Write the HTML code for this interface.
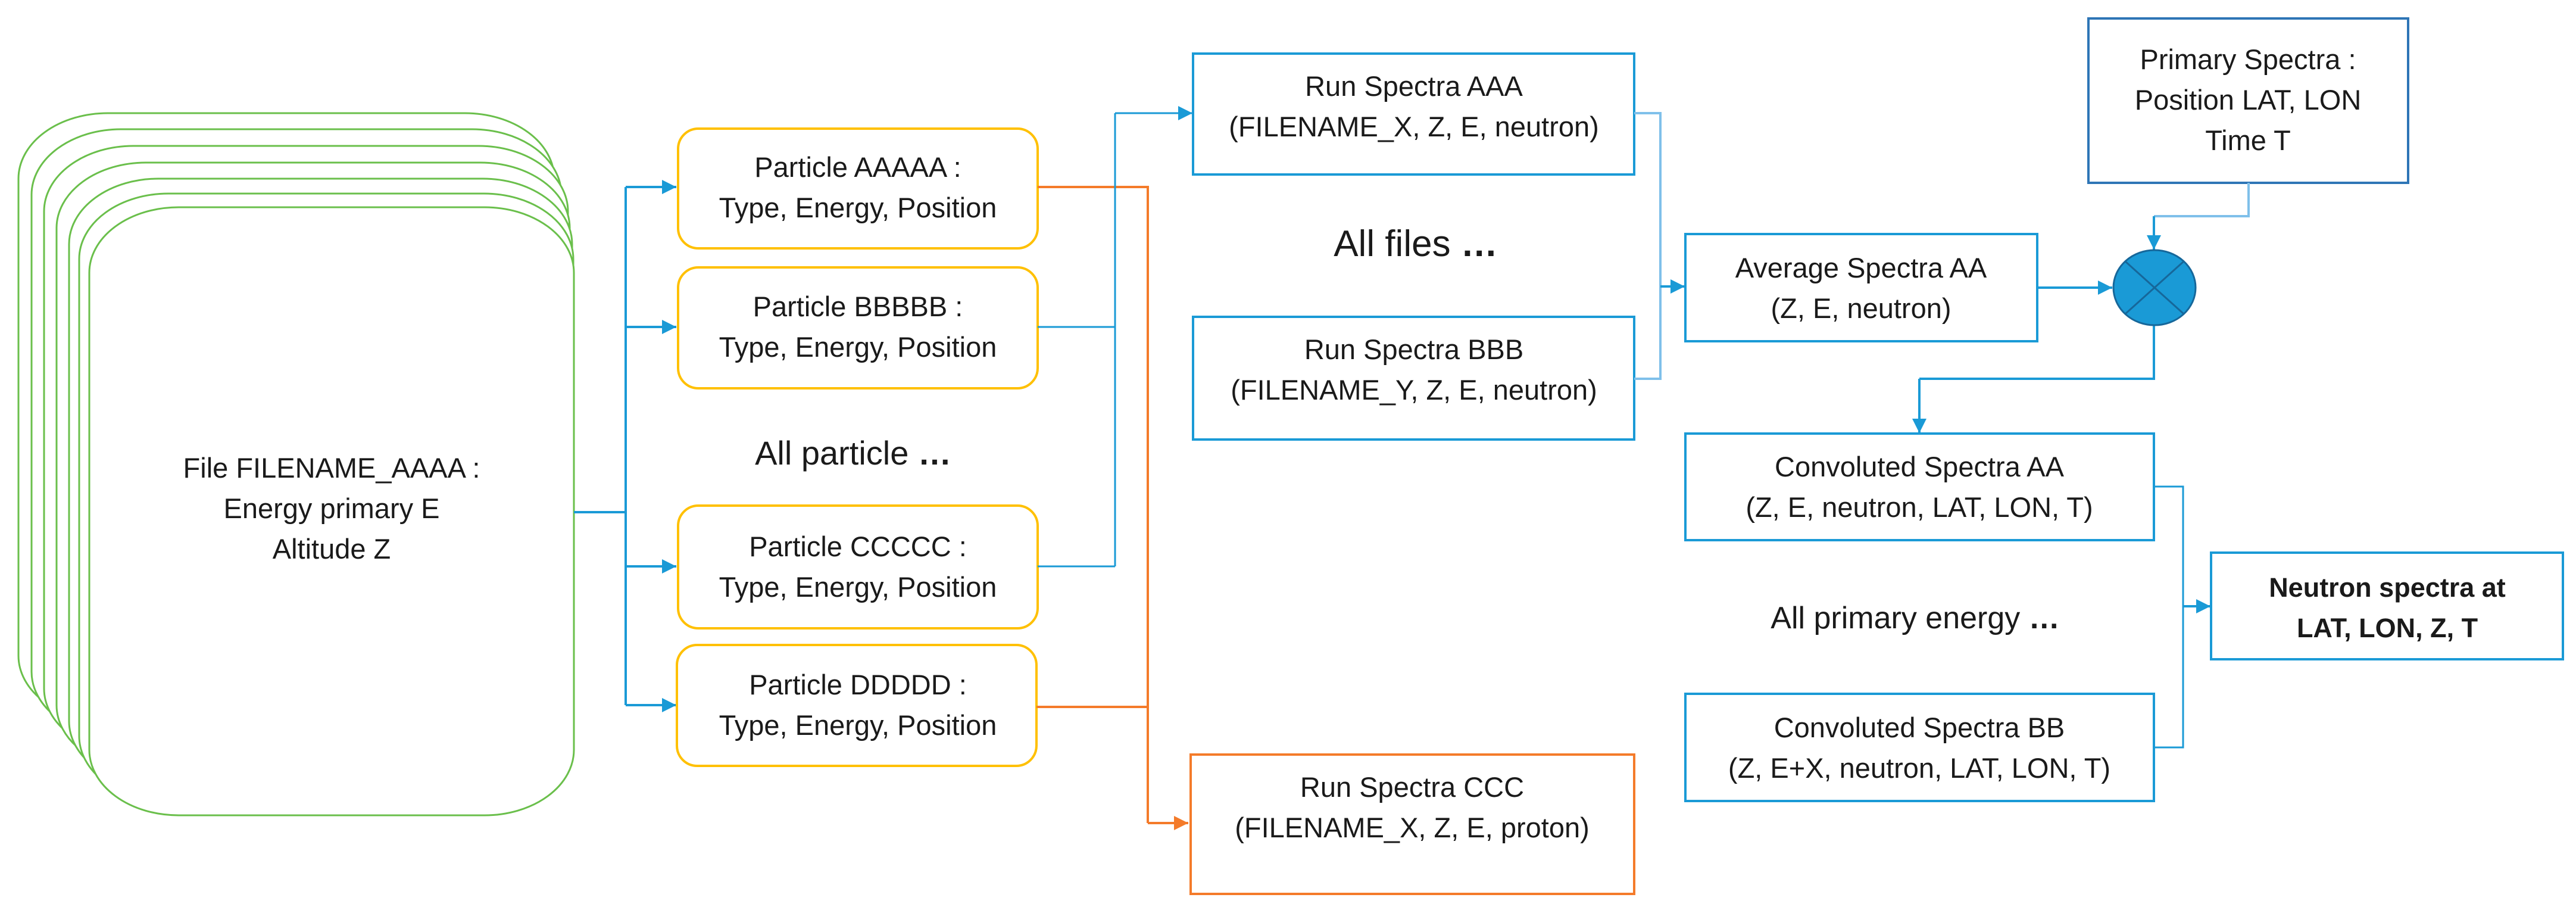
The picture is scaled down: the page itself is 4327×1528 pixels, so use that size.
<!DOCTYPE html>
<html><head><meta charset="utf-8"><style>
html,body{margin:0;padding:0;background:#fff;}
svg{display:block;}
text{font-family:"Liberation Sans",sans-serif;fill:#1a1a1a;text-anchor:middle;}
</style></head><body>
<svg width="4327" height="1528" viewBox="0 0 4327 1528" xmlns="http://www.w3.org/2000/svg">
<defs>
<marker id="ab" markerWidth="10" markerHeight="10" refX="9" refY="5" orient="auto" markerUnits="userSpaceOnUse" viewBox="0 0 10 10"><path d="M0,0 L10,5 L0,10 z" fill="#1a9ad6"/></marker>
<marker id="abig" viewBox="0 0 10 10" refX="10" refY="5" markerWidth="24" markerHeight="24" orient="auto" markerUnits="userSpaceOnUse"><path d="M0,0 L10,5 L0,10 z" fill="#1a9ad6"/></marker>
<marker id="aor" viewBox="0 0 10 10" refX="10" refY="5" markerWidth="24" markerHeight="24" orient="auto" markerUnits="userSpaceOnUse"><path d="M0,0 L10,5 L0,10 z" fill="#f47b2a"/></marker>
</defs>

<!-- green stacked cards -->
<g fill="#fff" stroke="#6abf4b" stroke-width="3">
<rect x="31" y="190" width="900" height="1021" rx="150" ry="110"/>
<rect x="53" y="217" width="890" height="1021" rx="150" ry="110"/>
<rect x="74" y="245" width="880" height="1021" rx="150" ry="110"/>
<rect x="95" y="273" width="862" height="1021" rx="150" ry="110"/>
<rect x="116" y="300" width="845" height="1021" rx="150" ry="110"/>
<rect x="133" y="325" width="830" height="1021" rx="150" ry="110"/>
<rect x="150" y="348" width="814" height="1021" rx="150" ry="110"/>
</g>
<text x="557" y="802" font-size="47">File FILENAME_AAAA :</text>
<text x="557" y="870" font-size="47">Energy primary E</text>
<text x="557" y="938" font-size="47">Altitude Z</text>

<!-- blue from file to particles -->
<g stroke="#1a9ad6" stroke-width="4" fill="none">
<line x1="964" y1="860" x2="1051" y2="860"/>
<line x1="1051" y1="314" x2="1051" y2="1184"/>
<line x1="1051" y1="314" x2="1136" y2="314" marker-end="url(#abig)"/>
<line x1="1051" y1="549" x2="1136" y2="549" marker-end="url(#abig)"/>
<line x1="1051" y1="951" x2="1136" y2="951" marker-end="url(#abig)"/>
<line x1="1051" y1="1184" x2="1136" y2="1184" marker-end="url(#abig)"/>
</g>

<!-- particle boxes -->
<g fill="#fff" stroke="#ffc000" stroke-width="4">
<rect x="1139" y="216" width="604" height="201" rx="34"/>
<rect x="1139" y="449" width="604" height="203" rx="34"/>
<rect x="1139" y="849" width="604" height="206" rx="34"/>
<rect x="1137" y="1083" width="604" height="203" rx="34"/>
</g>
<g font-size="47">
<text x="1441" y="297">Particle AAAAA :</text><text x="1441" y="365">Type, Energy, Position</text>
<text x="1441" y="531">Particle BBBBB :</text><text x="1441" y="599">Type, Energy, Position</text>
<text x="1441" y="934">Particle CCCCC :</text><text x="1441" y="1002">Type, Energy, Position</text>
<text x="1441" y="1166">Particle DDDDD :</text><text x="1441" y="1234">Type, Energy, Position</text>
</g>
<text x="1433" y="780" font-size="56">All particle <tspan font-weight="bold">…</tspan></text>

<!-- orange connectors -->
<g stroke="#f47b2a" stroke-width="4" fill="none">
<polyline points="1743,314 1928,314 1928,1382"/>
<line x1="1741" y1="1187" x2="1928" y2="1187"/>
<line x1="1928" y1="1382" x2="1996" y2="1382" marker-end="url(#aor)"/>
</g>
<!-- blue from B, C to AAA -->
<g stroke="#1a9ad6" stroke-width="3" fill="none">
<line x1="1743" y1="549" x2="1873" y2="549"/>
<line x1="1743" y1="951" x2="1873" y2="951"/>
<line x1="1873" y1="951" x2="1873" y2="190"/>
<line x1="1873" y1="190" x2="2003" y2="190" marker-end="url(#abig)"/>
</g>

<!-- run spectra boxes -->
<g fill="#fff" stroke="#1a9ad6" stroke-width="4">
<rect x="2004" y="90" width="741" height="203"/>
<rect x="2004" y="532" width="741" height="206"/>
<rect x="2831" y="393" width="591" height="180"/>
<rect x="2831" y="728" width="787" height="179"/>
<rect x="2831" y="1165" width="787" height="180"/>
<rect x="3714" y="928" width="591" height="179"/>
</g>
<rect x="3508" y="31" width="537" height="276" fill="#fff" stroke="#2e75b6" stroke-width="4"/>
<rect x="2000" y="1267" width="745" height="234" fill="#fff" stroke="#f47b2a" stroke-width="4"/>

<g font-size="47">
<text x="2375" y="161">Run Spectra AAA</text><text x="2375" y="229">(FILENAME_X, Z, E, neutron)</text>
<text x="2375" y="603">Run Spectra BBB</text><text x="2375" y="671">(FILENAME_Y, Z, E, neutron)</text>
<text x="2372" y="1338">Run Spectra CCC</text><text x="2372" y="1406">(FILENAME_X, Z, E, proton)</text>
<text x="3126" y="466">Average Spectra AA</text><text x="3126" y="534">(Z, E, neutron)</text>
<text x="3776" y="116">Primary Spectra :</text><text x="3776" y="184">Position LAT, LON</text><text x="3776" y="252">Time T</text>
<text x="3224" y="800">Convoluted Spectra AA</text><text x="3224" y="868">(Z, E, neutron, LAT, LON, T)</text>
<text x="3224" y="1238">Convoluted Spectra BB</text><text x="3224" y="1306">(Z, E+X, neutron, LAT, LON, T)</text>
<text x="4010" y="1002" font-weight="bold" font-size="45">Neutron spectra at</text><text x="4010" y="1070" font-weight="bold" font-size="45">LAT, LON, Z, T</text>
</g>
<text x="2378" y="430" font-size="62">All files <tspan font-weight="bold">…</tspan></text>
<text x="3217" y="1055" font-size="52">All primary energy <tspan font-weight="bold">…</tspan></text>

<!-- right side connectors -->
<g stroke="#7fc0ea" stroke-width="4" fill="none">
<polyline points="2745,190 2789,190 2789,636 2745,636"/>
<polyline points="3777,307 3777,363 3618,363"/>
</g>
<g stroke="#1a9ad6" stroke-width="4" fill="none">
<line x1="2789" y1="481" x2="2830" y2="481" marker-end="url(#abig)"/>
<line x1="3422" y1="483" x2="3548" y2="483" marker-end="url(#abig)"/>
<line x1="3618" y1="363" x2="3618" y2="419" marker-end="url(#abig)"/>
<polyline points="3618,546 3618,636 3224,636"/>
<line x1="3224" y1="636" x2="3224" y2="727" marker-end="url(#abig)"/>
<polyline points="3618,817 3667,817 3667,1255 3618,1255" stroke-width="3"/>
<line x1="3667" y1="1018" x2="3713" y2="1018" marker-end="url(#abig)"/>
</g>
<!-- summing junction -->
<ellipse cx="3619" cy="483" rx="69" ry="63" fill="#1a9ad6" stroke="#16679a" stroke-width="3"/>
<g stroke="#16679a" stroke-width="3">
<line x1="3570" y1="439" x2="3668" y2="527"/>
<line x1="3668" y1="439" x2="3570" y2="527"/>
</g>
</svg>
</body></html>
